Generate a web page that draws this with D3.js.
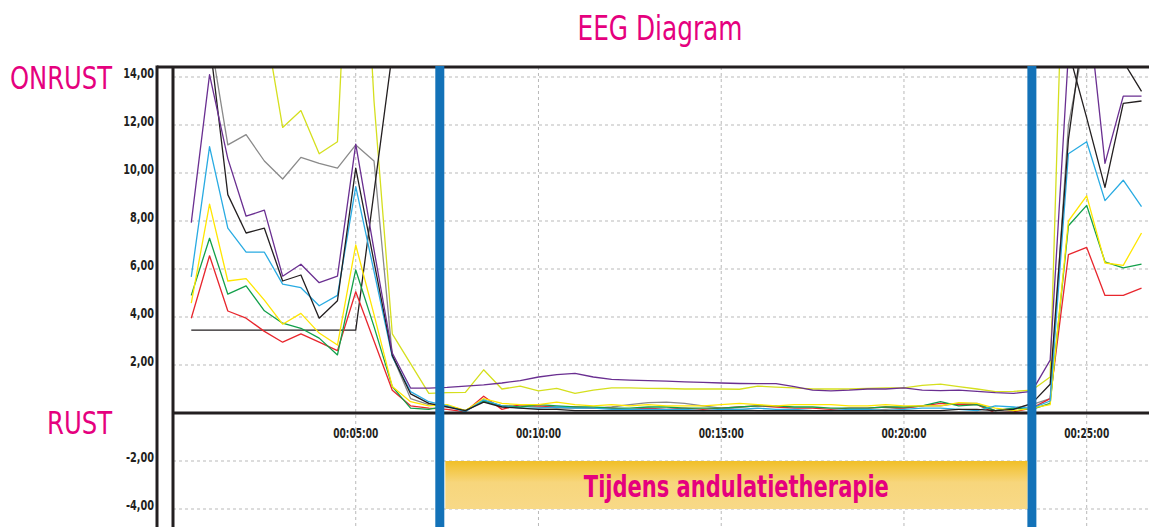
<!DOCTYPE html>
<html>
<head>
<meta charset="utf-8">
<script src="https://cdn.jsdelivr.net/npm/d3@7"></script>
<style>
  body { margin: 0; background: #fff; }
  svg { display: block; font-family: "Liberation Sans Narrow", "DejaVu Sans Condensed", "Arial Narrow", sans-serif; }
</style>
</head>
<body>
<div id="chart"></div>
<script>
// time of each sample, in minutes
const minutes = [0.5, 1, 1.5, 2, 2.5, 3, 3.5, 4, 4.5, 5, 5.5, 6, 6.5, 7, 7.5, 8, 8.5, 9, 9.5, 10,
  10.5, 11, 11.5, 12, 12.5, 13, 13.5, 14, 14.5, 15, 15.5, 16, 16.5, 17, 17.5, 18, 18.5, 19, 19.5, 20,
  20.5, 21, 21.5, 22, 22.5, 23, 23.5, 24, 24.5, 25, 25.5, 26, 26.5];

const red = [3.95, 6.55, 4.25, 3.95, 3.4, 2.95, 3.3, 2.95, 2.6, 5.05, 3.0, 0.95, 0.3, 0.2,
  0.15, 0.05, 0.7, 0.15, 0.35, 0.3, 0.25, 0.25, 0.2, 0.2, 0.15, 0.2, 0.15, 0.2, 0.15, 0.2, 0.25, 0.3, 0.25,
  0.2, 0.2, 0.15, 0.2, 0.2, 0.25, 0.2, 0.3, 0.4, 0.35, 0.35, 0.0, 0.05, 0.2,
  0.6, 6.6, 6.9, 4.9, 4.9, 5.2];
const green = [4.9, 7.28, 4.95, 5.3, 4.26, 3.74, 3.53, 3.12, 2.42, 5.96, 3.6, 1.1, 0.2, 0.15,
  0.3, 0.1, 0.5, 0.3, 0.25, 0.35, 0.3, 0.25, 0.25, 0.2, 0.2, 0.25, 0.25, 0.2, 0.2, 0.2, 0.25, 0.3, 0.3,
  0.25, 0.25, 0.2, 0.2, 0.2, 0.25, 0.25, 0.3, 0.47, 0.3, 0.35, 0.1, 0.2, 0.15,
  0.4, 7.8, 8.65, 6.3, 6.05, 6.2];
const yellow = [4.58, 8.7, 5.5, 5.6, 4.7, 3.7, 4.15, 3.33, 2.83, 7.0, 4.1, 1.1, 0.47, 0.3,
  0.35, 0.1, 0.6, 0.4, 0.35, 0.35, 0.45, 0.35, 0.3, 0.35, 0.3, 0.35, 0.3, 0.3, 0.3, 0.35, 0.4, 0.35, 0.3,
  0.35, 0.35, 0.35, 0.3, 0.3, 0.35, 0.3, 0.3, 0.3, 0.43, 0.4, 0.2, 0.1, 0.2,
  0.35, 8.0, 9.05, 6.25, 6.15, 7.5];
const lime = [18, 19, 18, 17.5, 16.4, 11.9, 12.6, 10.8, 11.3, 27, 13, 3.3, 2.06, 0.82,
  0.85, 0.86, 1.8, 1.0, 1.12, 0.92, 1.03, 0.82, 0.95, 1.05, 1.05, 1.03, 1.02, 1.0, 1.0, 1.0, 0.99, 1.12, 1.08,
  1.05, 1.0, 1.0, 1.0, 1.02, 1.05, 1.05, 1.15, 1.2, 1.1, 1.0, 0.89, 0.9, 0.95,
  1.5, 27, 28, 27, 26, 26];
const purple = [7.93, 14.1, 10.6, 8.2, 8.45, 5.7, 6.2, 5.43, 5.7, 11.2, 6.8, 2.5, 1.04, 1.04,
  1.07, 1.12, 1.17, 1.25, 1.35, 1.5, 1.6, 1.65, 1.5, 1.4, 1.37, 1.35, 1.33, 1.3, 1.28, 1.25, 1.23, 1.22, 1.22,
  1.1, 0.95, 0.92, 0.95, 1.0, 1.0, 1.05, 0.95, 0.93, 0.95, 0.9, 0.85, 0.82, 0.9,
  2.2, 15, 17.5, 10.4, 13.2, 13.2];
const cyan = [5.67, 11.1, 7.7, 6.7, 6.7, 5.37, 5.22, 4.47, 4.9, 9.43, 5.9, 2.35, 0.89, 0.47,
  0.3, 0.05, 0.55, 0.3, 0.2, 0.2, 0.25, 0.2, 0.2, 0.15, 0.15, 0.15, 0.15, 0.15, 0.1, 0.15, 0.15, 0.2, 0.15,
  0.15, 0.1, 0.1, 0.15, 0.15, 0.1, 0.15, 0.2, 0.2, 0.15, 0.1, 0.3, 0.25, 0.2,
  0.5, 10.8, 11.3, 8.85, 9.7, 8.6];
const grey = [16, 15.8, 11.17, 11.6, 10.5, 9.75, 10.65, 10.4, 10.2, 11.17, 10.5, 2.4, 0.6, 0.35,
  0.3, 0.1, 0.5, 0.3, 0.3, 0.25, 0.2, 0.2, 0.2, 0.25, 0.35, 0.43, 0.45, 0.4, 0.3, 0.2, 0.15, 0.1, 0.1,
  0.1, 0.1, 0.1, 0.1, 0.1, 0.15, 0.2, 0.3, 0.3, 0.4, 0.4, 0.1, 0.2, 0.35,
  0.6, 12, 16, 16, 16, 16];
const black1 = [18, 15.5, 9.1, 7.5, 7.7, 5.5, 5.75, 3.95, 4.68, 10.2, 6.3, 2.4, 0.8, 0.4,
  0.25, 0.1, 0.45, 0.25, 0.2, 0.15, 0.15, 0.1, 0.1, 0.1, 0.1, 0.1, 0.1, 0.1, 0.1, 0.1, 0.1, 0.1, 0.1,
  0.1, 0.1, 0.1, 0.1, 0.1, 0.1, 0.1, 0.1, 0.1, 0.15, 0.15, 0.1, 0.15, 0.4,
  1.2, 11.4, 17, 16, 14.65, 13.4];
// second black channel is above the chart top during the therapy
const black2 = [3.45, 3.45, 3.45, 3.45, 3.45, 3.45, 3.45, 3.45, 3.45, 3.45, 9.2, 15,
  null, null, null, null, null, null, null, null, null, null, null, null,
  null, null, null, null, null, null, null, null, null, null, null, null,
  null, null, null, null, null, null, null, null, null, null, null, null,
  15.1, 12.3, 9.4, 12.9, 13.0];

const seriesList = [
  { name: 'grey', values: grey, color: '#8a8a8a' },
  { name: 'lime', values: lime, color: '#d5df1e' },
  { name: 'black2', values: black2, color: '#231f20' },
  { name: 'red', values: red, color: '#e8262d' },
  { name: 'green', values: green, color: '#12a04a' },
  { name: 'yellow', values: yellow, color: '#ffe600' },
  { name: 'cyan', values: cyan, color: '#29abe2' },
  { name: 'black1', values: black1, color: '#231f20' },
  { name: 'purple', values: purple, color: '#6a2f91' }
];

const yTickValues = [14, 12, 10, 8, 6, 4, 2, -2, -4];
const xTickValues = [5, 10, 15, 20, 25];
const xTickLabels = ['00:05:00', '00:10:00', '00:15:00', '00:20:00', '00:25:00'];
const therapyStart = 7.3;
const therapyEnd = 23.5;

const width = 1149, height = 527;
const pink = '#e5007e';
const ink = '#231f20';

const svg = d3.select('#chart').append('svg')
  .attr('width', width)
  .attr('height', height)
  .attr('viewBox', '0 0 ' + width + ' ' + height);

const x = d3.scaleLinear().domain([0, 25]).range([173, 1086.7]);
const y = d3.scaleLinear().domain([-4, 14]).range([509, 77]);
const plotTop = 67, plotLeft = 173;

svg.append('defs').append('clipPath').attr('id', 'plotClip')
  .append('rect')
  .attr('x', plotLeft).attr('y', plotTop)
  .attr('width', width - plotLeft).attr('height', height - plotTop);

// grid
const grid = svg.append('g').attr('class', 'grid');
grid.selectAll('line.h')
  .data(yTickValues)
  .enter().append('line').attr('class', 'h')
  .attr('x1', plotLeft).attr('x2', width)
  .attr('y1', d => y(d)).attr('y2', d => y(d))
  .attr('stroke', '#b9b9b9').attr('stroke-width', 1).attr('stroke-dasharray', '3,3');
grid.selectAll('line.v')
  .data(xTickValues)
  .enter().append('line').attr('class', 'v')
  .attr('x1', d => x(d)).attr('x2', d => x(d))
  .attr('y1', plotTop).attr('y2', height)
  .attr('stroke', '#b9b9b9').attr('stroke-width', 1).attr('stroke-dasharray', '3,3');

// series lines
const line = d3.line()
  .defined(d => d[1] != null)
  .x(d => x(d[0]))
  .y(d => y(d[1]));

svg.append('g').attr('clip-path', 'url(#plotClip)')
  .selectAll('path')
  .data(seriesList)
  .enter().append('path')
  .attr('fill', 'none')
  .attr('stroke', d => d.color)
  .attr('stroke-width', 1.3)
  .attr('stroke-linejoin', 'round')
  .attr('d', d => line(minutes.map((m, i) => [m, d.values[i]])));

// frame and axes
svg.append('line').attr('x1', 157).attr('x2', width).attr('y1', plotTop).attr('y2', plotTop)
  .attr('stroke', ink).attr('stroke-width', 3);
svg.append('line').attr('x1', 157).attr('x2', 157).attr('y1', plotTop - 1.5).attr('y2', height)
  .attr('stroke', ink).attr('stroke-width', 3);
svg.append('line').attr('x1', plotLeft).attr('x2', plotLeft).attr('y1', plotTop).attr('y2', height)
  .attr('stroke', ink).attr('stroke-width', 3);
svg.append('line').attr('x1', plotLeft).attr('x2', width).attr('y1', y(0)).attr('y2', y(0))
  .attr('stroke', ink).attr('stroke-width', 3);

// therapy markers
svg.selectAll('rect.marker')
  .data([therapyStart, therapyEnd])
  .enter().append('rect').attr('class', 'marker')
  .attr('x', d => x(d) - 4.5).attr('width', 9)
  .attr('y', plotTop - 1).attr('height', height - plotTop + 1)
  .attr('fill', '#1372b8');

// banner
const grad = svg.select('defs').append('linearGradient')
  .attr('id', 'bannerGrad').attr('x1', 0).attr('x2', 0).attr('y1', 0).attr('y2', 1);
grad.append('stop').attr('offset', '0%').attr('stop-color', '#f1bf27');
grad.append('stop').attr('offset', '45%').attr('stop-color', '#f7d67c');
grad.append('stop').attr('offset', '100%').attr('stop-color', '#f8d987');

const bx0 = x(therapyStart) + 5.5, bx1 = x(therapyEnd) - 4.5;
svg.append('rect')
  .attr('x', bx0).attr('width', bx1 - bx0)
  .attr('y', y(-2)).attr('height', y(-4) - y(-2))
  .attr('fill', 'url(#bannerGrad)');
svg.append('text')
  .attr('x', (bx0 + bx1) / 2).attr('y', 497)
  .attr('text-anchor', 'middle')
  .attr('font-weight', 'bold')
  .attr('font-size', 31)
  .attr('textLength', 305).attr('lengthAdjust', 'spacingAndGlyphs')
  .attr('fill', pink)
  .text('Tijdens andulatietherapie');

// tick labels (condensed bold, width fitted per label)
function labelWidth(s) {
  let w = 0;
  for (const ch of s) w += (ch === ',' || ch === ':') ? 3.2 : (ch === '-' ? 4.2 : 6.9);
  return w;
}
svg.append('g').selectAll('text')
  .data(yTickValues)
  .enter().append('text')
  .attr('x', 154).attr('y', d => y(d) + 0.5)
  .attr('text-anchor', 'end')
  .attr('font-weight', 'bold').attr('font-size', 13.5)
  .attr('textLength', d => labelWidth(d.toFixed(2).replace('.', ',')))
  .attr('lengthAdjust', 'spacingAndGlyphs')
  .attr('fill', ink)
  .text(d => d.toFixed(2).replace('.', ','));

svg.append('g').selectAll('text')
  .data(xTickValues)
  .enter().append('text')
  .attr('x', d => x(d)).attr('y', 438)
  .attr('text-anchor', 'middle')
  .attr('font-weight', 'bold').attr('font-size', 13.5)
  .attr('textLength', 45).attr('lengthAdjust', 'spacingAndGlyphs')
  .attr('fill', ink)
  .text((d, i) => xTickLabels[i]);

// titles
svg.append('text')
  .attr('x', 660).attr('y', 40)
  .attr('text-anchor', 'middle')
  .attr('font-size', 33)
  .attr('textLength', 165).attr('lengthAdjust', 'spacingAndGlyphs')
  .attr('fill', pink)
  .text('EEG Diagram');
// side labels: smaller font stretched vertically so the natural width stays narrow
svg.append('text')
  .attr('transform', 'translate(10,89) scale(1,1.15)')
  .attr('font-size', 27)
  .attr('textLength', 102).attr('lengthAdjust', 'spacingAndGlyphs')
  .attr('fill', pink)
  .text('ONRUST');
svg.append('text')
  .attr('transform', 'translate(47,434) scale(1,1.15)')
  .attr('font-size', 27)
  .attr('textLength', 65).attr('lengthAdjust', 'spacingAndGlyphs')
  .attr('fill', pink)
  .text('RUST');
</script>
</body>
</html>
